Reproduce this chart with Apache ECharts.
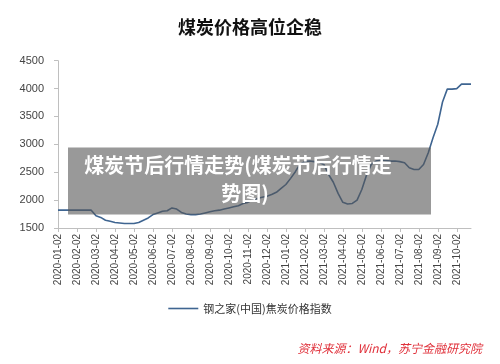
<!DOCTYPE html>
<html>
<head>
<meta charset="utf-8">
<script src="https://cdn.jsdelivr.net/npm/echarts@6/dist/echarts.min.js"></script>
<style>html,body{margin:0;padding:0;background:#fff;}#c{width:500px;height:364px;}</style>
</head>
<body>
<div id="c"></div>
<script>
// Month labels (each month's 2nd) and weekly sample days
var months = ['2020-01','2020-02','2020-03','2020-04','2020-05','2020-06','2020-07','2020-08','2020-09','2020-10','2020-11','2020-12',
              '2021-01','2021-02','2021-03','2021-04','2021-05','2021-06','2021-07','2021-08','2021-09','2021-10'];
var days = ['02','09','16','23'];
var categories = [];
months.forEach(function(m){ days.forEach(function(d){ categories.push(m + '-' + d); }); });

var seriesName = '钢之家(中国)焦炭价格指数';
var values = [
  1820,1820,1820,1820,1820,1820,1820,1820,
  1720,1690,1640,1620,1600,1590,1580,1580,
  1580,1600,1640,1680,1740,1770,1800,1810,
  1860,1840,1780,1750,1740,1740,1750,1770,
  1790,1810,1820,1840,1860,1880,1900,1940,
  1960,2000,2030,2050,2070,2100,2140,2210,
  2280,2390,2510,2650,2690,2700,2690,2680,
  2640,2460,2320,2120,1960,1930,1940,2000,
  2190,2450,2640,2700,2720,2710,2700,2700,
  2690,2670,2580,2550,2550,2640,2850,3120,
  3360,3760,3990,3990,4000,4080,4080,4080
];
var yTicks = [1500, 2000, 2500, 3000, 3500, 4000, 4500];

var chart = echarts.init(document.getElementById('c'), null, {renderer: 'canvas'});
chart.setOption({
  animation: false,
  backgroundColor: '#fff',
  title: {
    text: '煤炭价格高位企稳',
    left: 'center', top: 13,
    textStyle: {fontSize: 18, fontWeight: 'bold', color: '#111', fontFamily: 'Noto Sans CJK SC'}
  },
  grid: {left: 58, right: 29, top: 60.7, bottom: 136, containLabel: false},
  legend: {
    data: [seriesName], bottom: 45, left: 'center',
    icon: 'path://M0,0 L30,0 L30,1.6 L0,1.6 Z', itemWidth: 30, itemHeight: 2, itemGap: 4,
    textStyle: {fontSize: 11, color: '#333', fontFamily: 'Noto Sans CJK SC'}
  },
  xAxis: {
    type: 'category', data: categories, boundaryGap: false,
    axisLine: {lineStyle: {color: '#bfbfbf', width: 1}},
    axisTick: {interval: 3, length: 4, lineStyle: {color: '#bfbfbf'}},
    axisLabel: {interval: 3, rotate: 90, fontSize: 10, color: '#444', margin: 6, fontFamily: 'Liberation Sans'},
    splitLine: {show: false}
  },
  yAxis: {
    type: 'value', min: yTicks[0], max: yTicks[yTicks.length-1], interval: 500,
    axisLine: {show: true, lineStyle: {color: '#bfbfbf'}},
    axisTick: {show: true, inside: false, length: 4, lineStyle: {color: '#bfbfbf'}},
    axisLabel: {fontSize: 11, color: '#444', margin: 14, fontFamily: 'Liberation Sans', formatter: function(v){ return String(v); }},
    splitLine: {show: false}
  },
  series: [{
    name: seriesName, type: 'line', data: values,
    showSymbol: false, symbol: 'none',
    lineStyle: {color: '#3f6591', width: 1.6},
    itemStyle: {color: '#3f6591'}
  }],
  graphic: [
    {type: 'rect', shape: {x: 68, y: 147.5, width: 363, height: 67}, style: {fill: 'rgba(85,85,85,0.6)'}, z: 100},
    {type: 'text', x: 238, y: 165, style: {text: '煤炭节后行情走势(煤炭节后行情走', fill: '#fff', fontSize: 20, fontWeight: 'bold', textAlign: 'center', textVerticalAlign: 'middle', fontFamily: 'Noto Sans CJK SC'}, z: 101},
    {type: 'text', x: 245, y: 193, style: {text: '势图)', fill: '#fff', fontSize: 20, fontWeight: 'bold', textAlign: 'center', textVerticalAlign: 'middle', fontFamily: 'Noto Sans CJK SC'}, z: 101},
    {type: 'text', x: 482, y: 348, style: {text: '资料来源：Wind，苏宁金融研究院', fill: '#e0303a', fontSize: 12, fontStyle: 'italic', textAlign: 'right', textVerticalAlign: 'middle', fontFamily: 'Noto Sans CJK SC'}, z: 101}
  ]
});
</script>
</body>
</html>
